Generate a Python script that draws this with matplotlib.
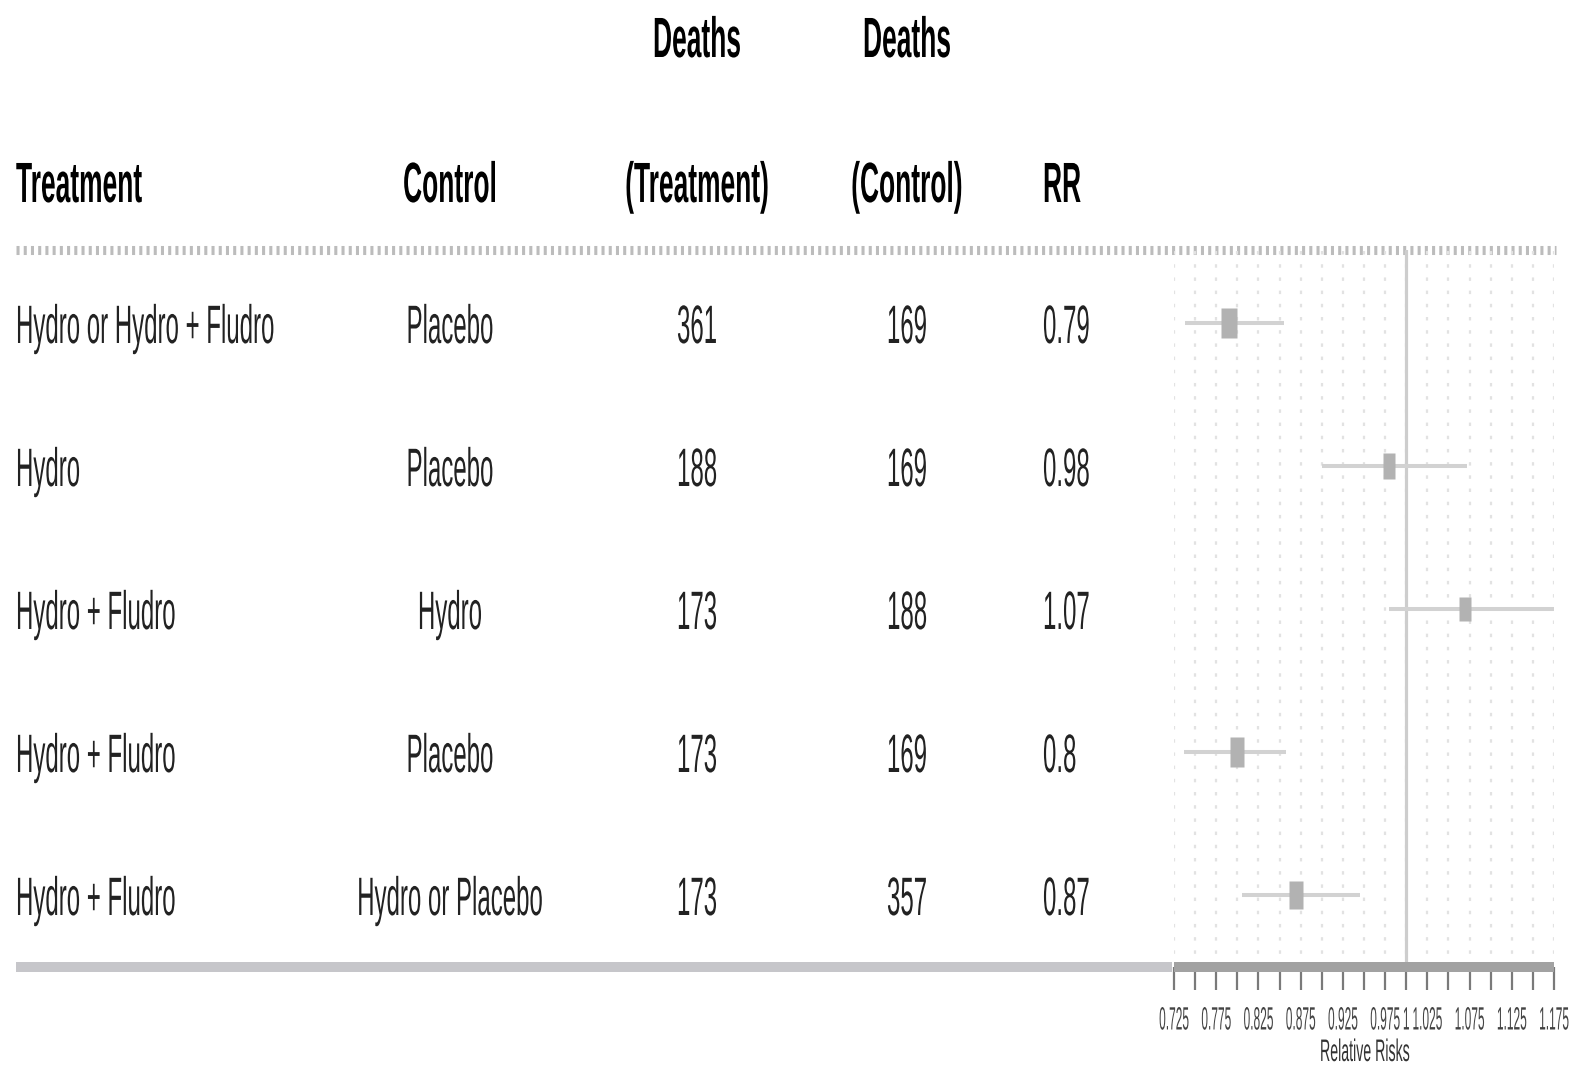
import matplotlib
matplotlib.use("Agg")
import matplotlib.pyplot as plt
import numpy as np
from matplotlib.patheffects import AbstractPathEffect
from matplotlib.transforms import Affine2D
from matplotlib.ticker import FixedLocator

# ---- data -------------------------------------------------------------
treatment = ["Hydro or Hydro + Fludro", "Hydro", "Hydro + Fludro",
             "Hydro + Fludro", "Hydro + Fludro"]
control = ["Placebo", "Placebo", "Hydro", "Placebo", "Hydro or Placebo"]
deaths_treatment = [361, 188, 173, 173, 173]
deaths_control = [169, 169, 188, 169, 357]
rr = [0.79, 0.98, 1.07, 0.8, 0.87]
ci_low = [0.738, 0.900, 0.980, 0.737, 0.805]
ci_high = [0.855, 1.072, 1.175, 0.858, 0.945]

header_top = ["", "", "Deaths", "Deaths", ""]
header_bottom = ["Treatment", "Control", "(Treatment)", "(Control)", "RR"]

major_ticks = [0.725, 0.775, 0.825, 0.875, 0.925, 0.975, 1.0,
               1.025, 1.075, 1.125, 1.175]
major_labels = ["0.725", "0.775", "0.825", "0.875", "0.925", "0.975", "1",
                "1.025", "1.075", "1.125", "1.175"]
minor_ticks = [0.75, 0.8, 0.85, 0.9, 0.95, 1.05, 1.1, 1.15]
x_label = "Relative Risks"

plt.rcParams["lines.scale_dashes"] = False
plt.rcParams["font.family"] = ["Liberation Sans", "DejaVu Sans"]


class Tall(AbstractPathEffect):
    """Stretch glyphs vertically about their baseline (condensed look)."""

    def __init__(self, sy):
        super().__init__()
        self.sy = sy

    def draw_path(self, renderer, gc, tpath, affine, rgbFace=None):
        ty = affine.get_matrix()[1, 2]
        stretched = affine + Affine2D().translate(0, -ty).scale(1, self.sy).translate(0, ty)
        renderer.draw_path(gc, tpath, stretched, rgbFace)


W, H = 1572, 1067
fig = plt.figure(figsize=(W / 100, H / 100), dpi=100)
fig.patch.set_facecolor("white")

# full-figure axes in pixel units for the table part
tab = fig.add_axes([0, 0, 1, 1])
tab.set_xlim(0, W)
tab.set_ylim(H, 0)
tab.axis("off")

row_y0, row_step = 323, 143
col_x = [16, 450, 697, 907, 1043]
col_ha = ["left", "center", "center", "center", "left"]

body_kw = dict(va="baseline", fontsize=17.3, color="#222222", path_effects=[Tall(2.25)])
head_kw = dict(va="baseline", fontsize=19, fontweight="bold", color="#000000",
               path_effects=[Tall(2.15)])

for x, ha, top, bot in zip(col_x, col_ha, header_top, header_bottom):
    if top:
        tab.text(x, 57, top, ha=ha, **head_kw)
    tab.text(x, 202, bot, ha=ha, **head_kw)

for i in range(len(rr)):
    base = row_y0 + row_step * i + 20
    cells = [treatment[i], control[i], str(deaths_treatment[i]),
             str(deaths_control[i]), f"{rr[i]:g}"]
    for x, ha, s in zip(col_x, col_ha, cells):
        tab.text(x, base, s, ha=ha, **body_kw)

# dotted rule under the header
tab.plot([16, 1556], [250, 250], color="#bcbcbc", lw=6.5, linestyle=(0, (2.2, 3.0)),
         solid_capstyle="butt")
# bottom rule of the table
tab.plot([16, 1172], [967, 967], color="#c6c6ca", lw=7.2, solid_capstyle="butt")

# ---- forest panel ------------------------------------------------------
fl, fr, ft, fb = 1174, 1554, 250, 967
fax = fig.add_axes([fl / W, (H - fb) / H, (fr - fl) / W, (fb - ft) / H])
fax.patch.set_alpha(0)
fax.set_xlim(min(major_ticks), max(major_ticks))
fax.set_ylim((fb - row_y0) / row_step, (ft - row_y0) / row_step)

for side in ("top", "left", "right"):
    fax.spines[side].set_visible(False)
fax.spines["bottom"].set_linewidth(7.2)
fax.spines["bottom"].set_color("#a2a2a2")
fax.spines["bottom"].set_capstyle("butt")

fax.xaxis.set_major_locator(FixedLocator(major_ticks))
fax.xaxis.set_minor_locator(FixedLocator(minor_ticks))
fax.set_xticklabels(major_labels)
fax.set_yticks([])
fax.tick_params(axis="x", which="both", direction="out", length=16.5, width=1.6,
                color="#7a7a7a", pad=28.5, labelsize=8.6, labelcolor="#444444")
for lbl in fax.get_xticklabels():
    lbl.set_va("baseline")
    lbl.set_path_effects([Tall(2.7)])

fax.grid(True, which="both", axis="x", color="#e2e2e2", lw=1.6,
         linestyle=(0, (2.5, 7.0)))
fax.axvline(1.0, color="#cdcdcd", lw=2.3, zorder=2)

rows = np.arange(len(rr))
fax.hlines(rows, ci_low, ci_high, color="#d2d2d2", lw=2.9, zorder=3)

# box size follows precision (inverse width of the log CI)
prec = 1.0 / (np.log(ci_high) - np.log(ci_low))
box_h = 22.0 * prec / prec.max()
box = [(-0.5, -1), (0.5, -1), (0.5, 1), (-0.5, 1), (-0.5, -1)]
for y, v, h in zip(rows, rr, box_h):
    fax.plot([v], [y], marker=box, ms=h, color="#b2b2b2", mec="none", zorder=4,
             linestyle="none")

fax.set_xlabel(x_label, fontsize=10.2, color="#333333", va="baseline")
fax.xaxis.set_label_coords((1365 - fl) / (fr - fl), -(1061 - fb) / (fb - ft))
fax.xaxis.label.set_path_effects([Tall(2.2)])

fig.savefig("out.png", dpi=100, facecolor="white")
